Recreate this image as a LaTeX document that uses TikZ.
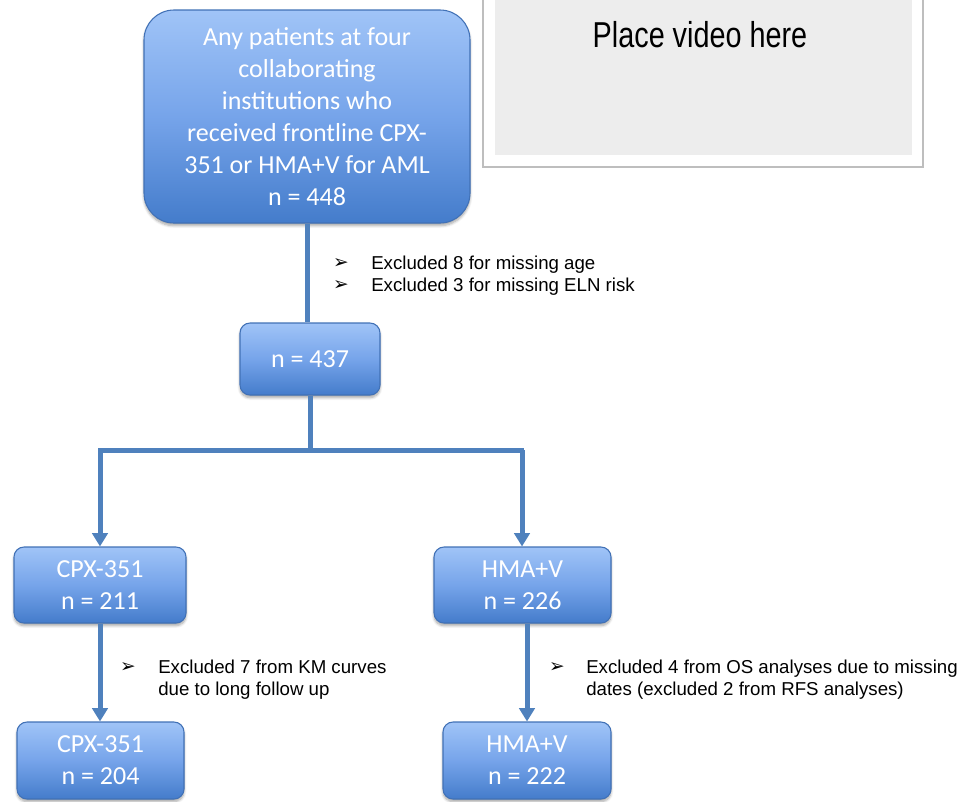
\documentclass[tikz,border=0pt]{standalone}
\usepackage{fontspec}
\setmainfont{Carlito}
\newfontfamily\arialfont{Liberation Sans}
\newfontfamily\dejavufont{DejaVu Sans}
\usetikzlibrary{arrows.meta,shadows.blur}
\definecolor{lineblue}{RGB}{79,129,189}
\definecolor{boxtop}{RGB}{160,196,247}
\definecolor{boxmid}{RGB}{118,164,234}
\definecolor{boxbot}{RGB}{68,124,203}
\definecolor{boxedge}{RGB}{65,113,182}
\definecolor{vidgray}{RGB}{237,237,237}
\definecolor{videdge}{RGB}{190,190,190}
\tikzset{
  flowbox/.style={draw=boxedge, line width=0.8pt, top color=boxtop, bottom color=boxbot, middle color=boxmid,
    rounded corners=7.5pt, inner sep=0pt, align=center, text=white,
    font=\fontsize{19.5}{24}\selectfont,
    blur shadow={shadow xshift=0pt, shadow yshift=-2pt, shadow blur steps=6, shadow opacity=35}},
  conn/.style={draw=lineblue, line width=3.75pt},
  arr/.style={conn, -{Triangle[width=11.5pt,length=10pt]}},
  note/.style={font=\arialfont\fontsize{14}{16.5}\selectfont, align=left, inner sep=0pt},
  bul/.style={font=\dejavufont\fontsize{14}{16}\selectfont, inner sep=0pt},
}
\begin{document}
\begin{tikzpicture}[x=0.75pt,y=-0.75pt]
\useasboundingbox (0,0) rectangle (962,801);
% video placeholder
\fill[white] (483,-4) rectangle (923,167);
\draw[videdge, line width=0.9pt] (483,-4) -- (483,167) -- (923,167) -- (923,-4);
\fill[vidgray] (495,-4) rectangle (912,155);
\node[font=\arialfont\fontsize{27}{30}\selectfont, inner sep=0pt] (video) at (700,35) {\scalebox{0.8}[1]{Place video here}};
% boxes
\node[flowbox, rounded corners=22.5pt, minimum width=244.5pt, minimum height=159.75pt] (top) at (307,116.5)
  {Any patients at four\\collaborating\\institutions who\\received frontline CPX-\\351 or HMA+V for AML\\n = 448};
\node[flowbox, minimum width=105pt, minimum height=54pt] (mid) at (310,359) {n = 437};
\node[flowbox, minimum width=129pt, minimum height=57pt] (cpxa) at (100,585) {CPX-351\\n = 211};
\node[flowbox, minimum width=132.75pt, minimum height=57pt] (hmaa) at (522.5,585) {HMA+V\\n = 226};
\node[flowbox, minimum width=125.25pt, minimum height=57.75pt] (cpxb) at (100.5,760.5) {CPX-351\\n = 204};
\node[flowbox, minimum width=126pt, minimum height=57.75pt] (hmab) at (527,760.5) {HMA+V\\n = 222};
% connectors
\coordinate (jl) at (100,450);
\coordinate (jr) at (522,450);
\draw[conn] (top.south) -- (top.south |- mid.north);
\draw[conn] (mid.south) -- (mid.south |- jl);
\draw[conn] ([xshift=-1.4pt]jl) -- ([xshift=1.4pt]jr);
\draw[arr] (jl) -- (jl |- cpxa.north);
\draw[arr] (jr) -- (jr |- hmaa.north);
\draw[arr] (cpxa.south) -- (cpxa.south |- cpxb.north);
\draw[arr] (hmaa.south -| hmab.north) -- (hmab.north);
% notes
\node[bul] (b1) at (341,264) {➢};
\node[note, anchor=base west] (n1) at (371,269.5) {Excluded 8 for missing age};
\node[bul] (b2) at (341,286) {➢};
\node[note, anchor=base west] (n2) at (371,291.5) {Excluded 3 for missing ELN risk};
\node[bul] (b3) at (128,668) {➢};
\node[note, anchor=base west] (n3) at (158,695) {Excluded 7 from KM curves\\due to long follow up};
\node[bul] (b4) at (557,668) {➢};
\node[note, anchor=base west] (n4) at (586,695) {Excluded 4 from OS analyses due to missing\\dates (excluded 2 from RFS analyses)};
\end{tikzpicture}
\end{document}
